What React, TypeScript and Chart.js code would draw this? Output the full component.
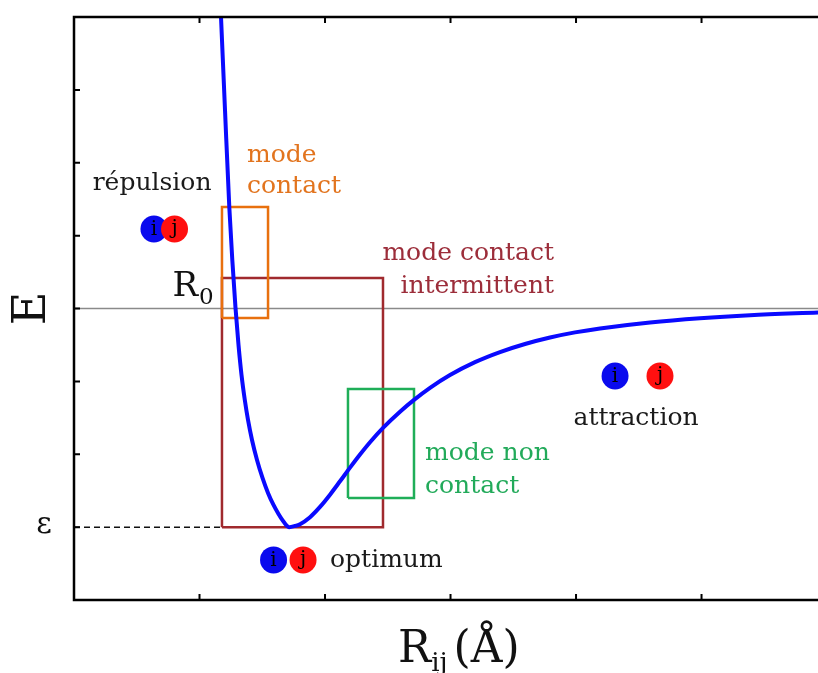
import React, { useEffect, useRef } from "react";
import { Chart, registerables } from "chart.js";

Chart.register(...registerables);

// Potential curve E(R_ij) (x and y in tick units)
const curveR = [1.1637, 1.1713, 1.2032, 1.2374, 1.2614, 1.2869, 1.3108, 1.3347, 1.361, 1.3865, 1.4183, 1.4582, 1.502, 1.5458, 1.5896, 1.6295, 1.6653, 1.6892, 1.7131, 1.761, 1.8008, 1.8805, 1.9602, 2.0398, 2.1195, 2.1992, 2.2789, 2.3586, 2.4622, 2.5976, 2.7092, 2.8367, 2.996, 3.1952, 3.3944, 3.5936, 3.7928, 3.992, 4.1912, 4.5896, 4.988, 5.3865, 5.9283];
const curveE = [4.3, 4.0, 2.7229, 1.3923, 0.6653, 0.0069, -0.5007, -0.9122, -1.2551, -1.5295, -1.8038, -2.0782, -2.3251, -2.5309, -2.6955, -2.8189, -2.915, -2.9698, -3.0, -2.9836, -2.9595, -2.8635, -2.7229, -2.5549, -2.3711, -2.1838, -2.0034, -1.8347, -1.6379, -1.4156, -1.2538, -1.0892, -0.9136, -0.7366, -0.5981, -0.487, -0.3978, -0.3278, -0.273, -0.1907, -0.1331, -0.0919, -0.0549];

const xTicks = [1, 2, 3, 4, 5];
const yTicks = [-3, -2, -1, 0, 1, 2, 3];
const xRange = [0, 5.928];
const yRange = [-4, 4];
const epsilonE = -3;

// Mode boxes: [xmin, xmax], [ymin, ymax]
const contactBoxX = [1.179, 1.546];
const contactBoxY = [-0.13, 1.392];
const intermittentBoxX = [1.179, 2.462];
const intermittentBoxY = [-3.0, 0.418];
const nonContactBoxX = [2.183, 2.709];
const nonContactBoxY = [-2.599, -1.104];

// Atom pairs (i blue, j red)
const atomIX = [0.637, 1.59, 4.311];
const atomJX = [0.801, 1.825, 4.669];
const atomY = [1.091, -3.45, -0.926];

// Text labels
const labelTexts = ["répulsion", "mode", "contact", "mode contact", "intermittent", "mode non", "contact", "attraction", "optimum"];
const labelX = [0.622, 1.378, 1.378, 3.825, 3.825, 2.797, 2.797, 4.478, 2.04];
const labelY = [1.626, 2.01, 1.584, 0.666, 0.213, -2.078, -2.531, -1.598, -3.546];
const labelColors = ["#1a1a1a", "#e2741e", "#e2741e", "#9c2d3a", "#9c2d3a", "#22aa5a", "#22aa5a", "#1a1a1a", "#1a1a1a"];
const labelAlign = ["center", "left", "left", "right", "right", "left", "left", "center", "left"];

const SERIF = '"DejaVu Serif", serif';

function rect(xs: number[], ys: number[]) {
  return [
    { x: xs[0], y: ys[0] },
    { x: xs[1], y: ys[0] },
    { x: xs[1], y: ys[1] },
    { x: xs[0], y: ys[1] },
    { x: xs[0], y: ys[0] },
  ];
}

const framePlugin = {
  id: "framePlugin",
  afterDatasetsDraw(chart: any) {
    const ctx = chart.ctx;
    const { left, right, top, bottom } = chart.chartArea;
    const xs = chart.scales.x;
    const ys = chart.scales.y;
    ctx.save();
    // atom letters
    ctx.fillStyle = "#000";
    ctx.font = `20px ${SERIF}`;
    ctx.textAlign = "center";
    ctx.textBaseline = "middle";
    for (let k = 0; k < atomY.length; k++) {
      const py = ys.getPixelForValue(atomY[k]);
      ctx.fillText("i", xs.getPixelForValue(atomIX[k]), py + 1);
      ctx.fillText("j", xs.getPixelForValue(atomJX[k]), py);
    }
    // text labels
    ctx.textBaseline = "alphabetic";
    ctx.font = `25px ${SERIF}`;
    for (let k = 0; k < labelTexts.length; k++) {
      ctx.fillStyle = labelColors[k];
      ctx.textAlign = labelAlign[k] as CanvasTextAlign;
      ctx.fillText(labelTexts[k], xs.getPixelForValue(labelX[k]), ys.getPixelForValue(labelY[k]));
    }
    // frame
    ctx.strokeStyle = "#000";
    ctx.lineWidth = 2.5;
    ctx.beginPath();
    ctx.moveTo(right + 2, top);
    ctx.lineTo(left, top);
    ctx.lineTo(left, bottom);
    ctx.lineTo(right + 2, bottom);
    ctx.stroke();
    // ticks
    ctx.lineWidth = 2;
    ctx.beginPath();
    for (const t of xTicks) {
      const px = xs.getPixelForValue(t);
      ctx.moveTo(px, bottom);
      ctx.lineTo(px, bottom - 6);
      ctx.moveTo(px, top);
      ctx.lineTo(px, top + 6);
    }
    for (const t of yTicks) {
      const py = ys.getPixelForValue(t);
      ctx.moveTo(left, py);
      ctx.lineTo(left + 6, py);
    }
    ctx.stroke();
    // epsilon label
    ctx.fillStyle = "#111";
    ctx.textAlign = "center";
    ctx.textBaseline = "middle";
    ctx.font = `30px ${SERIF}`;
    ctx.fillText("ε", 44, ys.getPixelForValue(epsilonE) - 2);
    // R0
    const zeroY = ys.getPixelForValue(0);
    ctx.textBaseline = "alphabetic";
    ctx.textAlign = "right";
    ctx.font = `34px ${SERIF}`;
    ctx.fillText("R", 198, zeroY - 13);
    ctx.textAlign = "left";
    ctx.font = `23px ${SERIF}`;
    ctx.fillText("0", 199, zeroY - 5);
    // y axis title
    ctx.save();
    ctx.translate(33, zeroY);
    ctx.rotate(-Math.PI / 2);
    ctx.textAlign = "center";
    ctx.textBaseline = "middle";
    ctx.font = `46px ${SERIF}`;
    ctx.fillText("E", 0, 0);
    ctx.restore();
    // x axis title R_ij (Å)
    ctx.textAlign = "left";
    ctx.textBaseline = "alphabetic";
    const base = 662;
    let x0 = 398;
    ctx.font = `44px ${SERIF}`;
    ctx.fillText("R", x0, base);
    x0 += ctx.measureText("R").width;
    ctx.font = `26px ${SERIF}`;
    ctx.fillText("ij", x0, base + 9);
    x0 += ctx.measureText("ij").width + 6;
    ctx.font = `44px ${SERIF}`;
    ctx.fillText("(Å)", x0, base);
    ctx.restore();
  },
};

export default function App() {
  const ref = useRef<HTMLCanvasElement | null>(null);
  useEffect(() => {
    if (!ref.current) return;
    const curve = curveR.map((x, i) => ({ x, y: curveE[i] }));
    const chart = new Chart(ref.current, {
      type: "scatter",
      data: {
        datasets: [
          {
            label: "E",
            data: curve,
            showLine: true,
            borderColor: "#0a0aff",
            borderWidth: 4,
            pointRadius: 0,
            cubicInterpolationMode: "monotone",
            order: 1,
          } as any,
          {
            label: "j",
            data: atomJX.map((x, i) => ({ x, y: atomY[i] })),
            pointRadius: 13.5,
            pointBackgroundColor: "#ff1010",
            pointBorderWidth: 0,
            order: 2,
          },
          {
            label: "i",
            data: atomIX.map((x, i) => ({ x, y: atomY[i] })),
            pointRadius: 13.5,
            pointBackgroundColor: "#0a0aee",
            pointBorderWidth: 0,
            order: 3,
          },
          {
            label: "contact",
            data: rect(contactBoxX, contactBoxY),
            showLine: true,
            borderColor: "#e8700e",
            borderWidth: 2.5,
            pointRadius: 0,
            order: 4,
          },
          {
            label: "non contact",
            data: rect(nonContactBoxX, nonContactBoxY),
            showLine: true,
            borderColor: "#1fae58",
            borderWidth: 2.5,
            pointRadius: 0,
            order: 5,
          },
          {
            label: "intermittent",
            data: rect(intermittentBoxX, intermittentBoxY),
            showLine: true,
            borderColor: "#a02a2e",
            borderWidth: 2.5,
            pointRadius: 0,
            order: 6,
          },
          {
            label: "epsilon",
            data: [
              { x: xRange[0], y: epsilonE },
              { x: intermittentBoxX[0], y: epsilonE },
            ],
            showLine: true,
            borderColor: "#111",
            borderWidth: 1.5,
            borderDash: [6, 4],
            pointRadius: 0,
            order: 7,
          },
          {
            label: "zero",
            data: [
              { x: xRange[0], y: 0 },
              { x: xRange[1], y: 0 },
            ],
            showLine: true,
            borderColor: "#8a8a8a",
            borderWidth: 1.5,
            pointRadius: 0,
            order: 8,
          },
        ],
      },
      options: {
        animation: false,
        responsive: false,
        maintainAspectRatio: false,
        layout: { autoPadding: false, padding: { left: 74, right: 0, top: 17, bottom: 73 } },
        plugins: { legend: { display: false }, tooltip: { enabled: false } },
        scales: {
          x: { type: "linear", display: false, min: xRange[0], max: xRange[1] },
          y: { type: "linear", display: false, min: yRange[0], max: yRange[1] },
        },
      },
      plugins: [framePlugin],
    });
    return () => chart.destroy();
  }, []);
  return (
    <div style={{ position: "absolute", left: 0, top: 0, width: 818, height: 673, background: "#fff" }}>
      <canvas ref={ref} width={818} height={673} style={{ display: "block", width: 818, height: 673 }} />
    </div>
  );
}
